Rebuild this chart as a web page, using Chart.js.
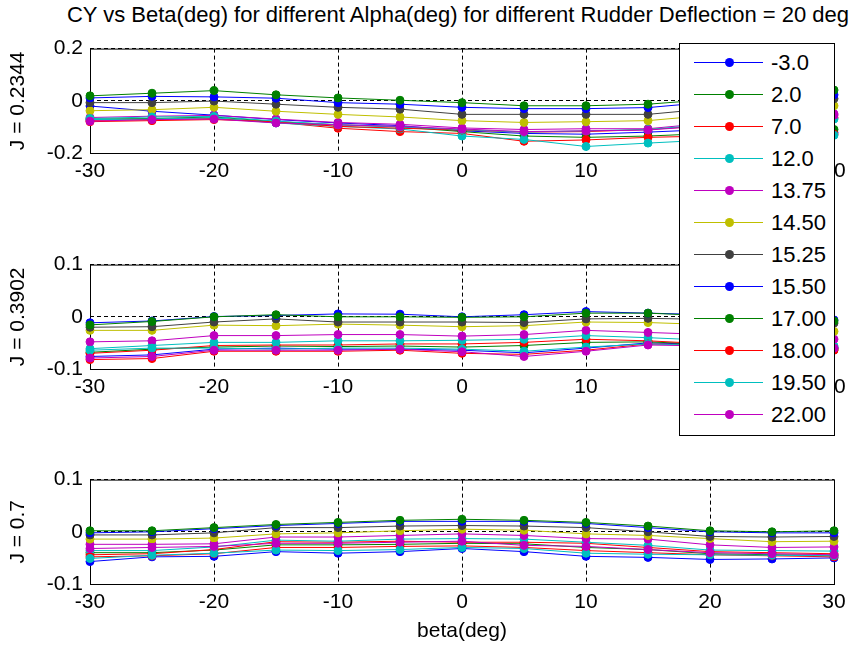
<!DOCTYPE html>
<html>
<head>
<meta charset="utf-8">
<script src="https://cdn.jsdelivr.net/npm/chart.js@4.4.1/dist/chart.umd.min.js"></script>
<style>
  body { margin: 0; background: #fff; font-family: "Liberation Sans", Arial, sans-serif; }
  #fig { position: relative; width: 854px; height: 649px; overflow: hidden; background: #fff; }
  .panel { position: absolute; left: 0; width: 854px; }
  #title { position: absolute; left: 0; top: 3px; width: 916px; text-align: center;
           font-size: 22px; line-height: 24px; color: #000; white-space: nowrap; }
  #legend { position: absolute; left: 679px; top: 43px; width: 154px; height: 391px;
            border: 1px solid #000; background: #fff; }
  .row { position: absolute; left: 0; width: 154px; height: 32px; }
  .row .ln { position: absolute; left: 14px; top: 15px; width: 69px; height: 1px; }
  .row .dot { position: absolute; left: 45px; top: 11px; width: 9px; height: 9px; border-radius: 50%; }
  .row .tx { position: absolute; left: 91px; top: 3px; font-size: 22px; line-height: 26px; color: #000; }
</style>
</head>
<body>
<div id="fig">
  <div id="title">CY vs Beta(deg) for different Alpha(deg) for different Rudder Deflection = 20 deg</div>
  <div class="panel" style="top:29px;height:160px"><canvas id="c1" width="854" height="160"></canvas></div>
  <div class="panel" style="top:245px;height:160px"><canvas id="c2" width="854" height="160"></canvas></div>
  <div class="panel" style="top:460px;height:186px"><canvas id="c3" width="854" height="186"></canvas></div>
  <div id="legend"></div>
</div>
<script>
// ── Data ─────────────────────────────────────────────────────
const betaDeg  = [-30, -25, -20, -15, -10, -5, 0, 5, 10, 15, 20, 25, 30];
const alphaDeg = ['-3.0', '2.0', '7.0', '12.0', '13.75', '14.50', '15.25', '15.50', '17.00', '18.00', '19.50', '22.00'];
const seriesColors = ['#0000ff', '#008000', '#ff0000', '#00bfbf', '#bf00bf', '#bfbf00',
                      '#404040', '#0000ff', '#008000', '#ff0000', '#00bfbf', '#bf00bf'];

// CY at J = 0.2344 (one row per alpha)
const cyJ02344 = [
  [-0.020, -0.040, -0.055, -0.072, -0.085, -0.095, -0.115, -0.125, -0.128, -0.120, -0.110, -0.100, -0.122],
  [-0.070, -0.068, -0.062, -0.080, -0.092, -0.100, -0.118, -0.135, -0.140, -0.135, -0.125, -0.115, -0.110],
  [-0.075, -0.072, -0.068, -0.082, -0.105, -0.118, -0.125, -0.155, -0.150, -0.140, -0.135, -0.130, -0.128],
  [-0.072, -0.070, -0.065, -0.085, -0.098, -0.108, -0.135, -0.148, -0.175, -0.162, -0.150, -0.140, -0.132],
  [-0.064, -0.059, -0.056, -0.070, -0.083, -0.090, -0.104, -0.110, -0.107, -0.107, -0.085, -0.065, -0.050],
  [-0.038, -0.034, -0.025, -0.040, -0.052, -0.062, -0.076, -0.083, -0.080, -0.076, -0.055, -0.035, -0.019],
  [-0.007, -0.007, -0.001, -0.013, -0.025, -0.032, -0.052, -0.052, -0.052, -0.052, -0.030, -0.010, 0.008],
  [0.011, 0.017, 0.015, 0.010, -0.007, -0.013, -0.025, -0.030, -0.030, -0.026, -0.005, 0.012, 0.023],
  [0.019, 0.029, 0.039, 0.023, 0.011, 0.002, -0.007, -0.019, -0.019, -0.013, 0.005, 0.025, 0.041],
  [-0.080, -0.076, -0.072, -0.080, -0.098, -0.105, -0.112, -0.120, -0.118, -0.110, -0.095, -0.080, -0.065],
  [-0.068, -0.062, -0.060, -0.078, -0.092, -0.100, -0.110, -0.120, -0.115, -0.110, -0.090, -0.078, -0.070],
  [-0.078, -0.072, -0.070, -0.085, -0.092, -0.098, -0.108, -0.118, -0.115, -0.112, -0.095, -0.075, -0.055]
];

// CY at J = 0.3902
const cyJ03902 = [
  [-0.076, -0.073, -0.062, -0.060, -0.062, -0.062, -0.064, -0.069, -0.060, -0.050, -0.053, -0.056, -0.060],
  [-0.068, -0.062, -0.058, -0.056, -0.057, -0.056, -0.058, -0.055, -0.049, -0.048, -0.053, -0.058, -0.063],
  [-0.070, -0.064, -0.055, -0.054, -0.054, -0.052, -0.052, -0.049, -0.043, -0.046, -0.052, -0.058, -0.064],
  [-0.061, -0.055, -0.049, -0.049, -0.046, -0.046, -0.045, -0.043, -0.036, -0.040, -0.045, -0.050, -0.056],
  [-0.048, -0.046, -0.036, -0.036, -0.034, -0.034, -0.037, -0.034, -0.026, -0.030, -0.034, -0.038, -0.043],
  [-0.026, -0.026, -0.016, -0.017, -0.014, -0.016, -0.019, -0.017, -0.010, -0.011, -0.015, -0.020, -0.028],
  [-0.020, -0.019, -0.010, -0.004, -0.010, -0.010, -0.010, -0.011, -0.004, -0.003, -0.005, -0.008, -0.012],
  [-0.0115, -0.008, 0.0005, 0.0025, 0.0055, 0.005, 0.000, 0.004, 0.010, 0.007, 0.004, 0.000, -0.006],
  [-0.0155, -0.009, 0.000, 0.004, 0.000, 0.000, -0.001, 0.000, 0.007, 0.007, 0.002, -0.002, -0.008],
  [-0.082, -0.080, -0.066, -0.066, -0.066, -0.064, -0.070, -0.072, -0.064, -0.052, -0.054, -0.057, -0.060],
  [-0.064, -0.060, -0.060, -0.062, -0.060, -0.060, -0.062, -0.066, -0.058, -0.052, -0.055, -0.058, -0.058],
  [-0.079, -0.076, -0.064, -0.064, -0.064, -0.062, -0.067, -0.076, -0.066, -0.054, -0.056, -0.058, -0.060]
];

// CY at J = 0.7
const cyJ07 = [
  [-0.057, -0.048, -0.047, -0.038, -0.041, -0.038, -0.032, -0.038, -0.047, -0.049, -0.053, -0.052, -0.050],
  [-0.040, -0.040, -0.035, -0.025, -0.025, -0.024, -0.022, -0.023, -0.030, -0.034, -0.042, -0.044, -0.045],
  [-0.044, -0.042, -0.034, -0.019, -0.020, -0.018, -0.020, -0.020, -0.022, -0.030, -0.038, -0.040, -0.042],
  [-0.036, -0.036, -0.029, -0.016, -0.018, -0.014, -0.013, -0.014, -0.020, -0.026, -0.035, -0.036, -0.037],
  [-0.024, -0.024, -0.023, -0.010, -0.010, -0.007, -0.004, -0.007, -0.013, -0.014, -0.025, -0.030, -0.029],
  [-0.014, -0.014, -0.012, -0.004, -0.002, 0.002, 0.005, 0.003, -0.004, -0.007, -0.013, -0.019, -0.018],
  [-0.006, -0.006, -0.002, 0.008, 0.008, 0.011, 0.012, 0.011, 0.008, 0.000, -0.009, -0.010, -0.009],
  [-0.002, 0.000, 0.006, 0.012, 0.016, 0.020, 0.020, 0.020, 0.016, 0.008, 0.000, -0.002, -0.002],
  [0.002, 0.002, 0.008, 0.014, 0.018, 0.022, 0.024, 0.022, 0.018, 0.011, 0.002, 0.000, 0.002],
  [-0.048, -0.046, -0.042, -0.030, -0.030, -0.028, -0.027, -0.030, -0.036, -0.040, -0.044, -0.046, -0.048],
  [-0.051, -0.045, -0.041, -0.035, -0.036, -0.034, -0.030, -0.032, -0.041, -0.043, -0.044, -0.045, -0.046],
  [-0.032, -0.030, -0.028, -0.022, -0.022, -0.020, -0.018, -0.026, -0.028, -0.034, -0.040, -0.042, -0.044]
];

// ── Chart setup ──────────────────────────────────────────────
Chart.defaults.font.family = '"Liberation Sans", Arial, sans-serif';
Chart.defaults.color = '#000';
const tickFont = { size: 21 };

// solid box round the plot area, like a MATLAB axes
const frameBox = {
  id: 'frameBox',
  beforeDatasetsDraw(chart) {
    const { ctx, chartArea: a } = chart;
    ctx.save();
    ctx.strokeStyle = '#000';
    ctx.lineWidth = 1;
    ctx.strokeRect(a.left + 0.5, a.top + 0.5, a.right - a.left, a.bottom - a.top);
    ctx.restore();
  }
};

function makePanel(id, jLabel, rows, lim, xAxisHeight, xTitle) {
  const datasets = rows.map((vals, i) => ({
    label: alphaDeg[i],
    data: vals.map((v, k) => ({ x: betaDeg[k], y: v })),
    borderColor: seriesColors[i],
    backgroundColor: seriesColors[i],
    borderWidth: 1,
    pointRadius: 4,
    pointHoverRadius: 4,
    pointBorderWidth: 1,
    tension: 0,
    clip: false,
    order: rows.length - i
  }));

  new Chart(document.getElementById(id), {
    type: 'line',
    data: { datasets },
    options: {
      responsive: false,
      animation: false,
      events: [],
      layout: { padding: { left: 0, right: 20, top: 14, bottom: 0 } },
      plugins: { legend: { display: false }, tooltip: { enabled: false } },
      scales: {
        x: {
          type: 'linear', min: -30, max: 30,
          ticks: { stepSize: 10, padding: 6, font: tickFont, color: '#000' },
          grid: { color: '#000', lineWidth: 1, drawTicks: false },
          border: { display: false, dash: [4, 3] },
          title: { display: !!xTitle, text: xTitle || '', font: tickFont, color: '#000', padding: { top: 0, bottom: 2 } },
          afterFit: s => { s.height = xAxisHeight; }
        },
        y: {
          min: -lim, max: lim,
          ticks: { stepSize: lim, padding: 7, font: tickFont, color: '#000' },
          grid: { color: '#000', lineWidth: 1, drawTicks: false },
          border: { display: false, dash: [4, 3] },
          title: { display: true, text: jLabel, font: tickFont, color: '#000', padding: { top: 6, bottom: 0 } },
          afterFit: s => { s.width = 90; }
        }
      }
    },
    plugins: [frameBox]
  });
}

makePanel('c1', 'J = 0.2344', cyJ02344, 0.2, 36, null);
makePanel('c2', 'J = 0.3902', cyJ03902, 0.1, 36, null);
makePanel('c3', 'J = 0.7', cyJ07, 0.1, 62, 'beta(deg)');

// ── Legend box ───────────────────────────────────────────────
const legend = document.getElementById('legend');
alphaDeg.forEach((a, i) => {
  const row = document.createElement('div');
  row.className = 'row';
  row.style.top = (3 + i * 32) + 'px';
  row.innerHTML = '<div class="ln" style="background:' + seriesColors[i] + '"></div>' +
                  '<div class="dot" style="background:' + seriesColors[i] + '"></div>' +
                  '<div class="tx">' + a + '</div>';
  legend.appendChild(row);
});
</script>
</body>
</html>
